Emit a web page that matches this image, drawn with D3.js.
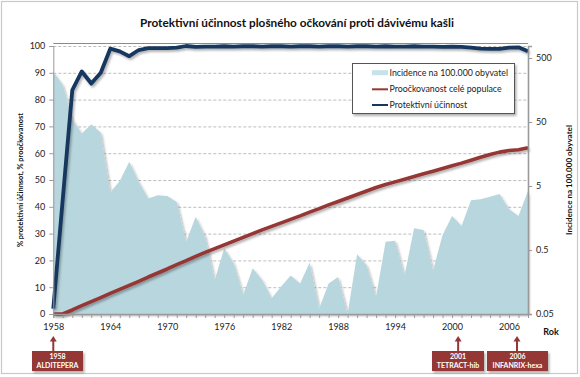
<!DOCTYPE html>
<html>
<head>
<meta charset="utf-8">
<script src="https://cdn.jsdelivr.net/npm/d3@7"></script>
<style>
  body { margin: 0; background: #fff; }
  svg text { font-family: Lato, "Open Sans", sans-serif; }
</style>
</head>
<body>
<svg id="chart" width="580" height="377"></svg>
<script>
// categories: one per year
var years = d3.range(1958, 2009);
var xTickYears = [1958, 1964, 1970, 1976, 1982, 1988, 1994, 2000, 2006];
var leftTicks = [0, 10, 20, 30, 40, 50, 60, 70, 80, 90, 100];
var rightTicks = [0.05, 0.5, 5, 50, 500];
var rightTickLabels = ["0.05", "0.5", "5", "50", "500"];

// incidence per 100 000 (right log axis)
var incidence = [305, 189, 55, 33, 46, 34, 4, 6, 12, 5.8,
  3.2, 3.6, 3.5, 2.8, 0.67, 1.65, 0.81, 0.17, 0.53, 0.31,
  0.1, 0.26, 0.17, 0.088, 0.134, 0.2, 0.15, 0.32, 0.061, 0.15,
  0.19, 0.05, 0.43, 0.29, 0.093, 0.67, 0.7, 0.2, 1.09, 1.03,
  0.24, 0.86, 1.7, 1.19, 3.0, 3.1, 3.4, 3.75, 2.16, 1.7,
  4.2];
// % coverage of whole population
var coverage = [0, 0, 1.5, 3.1, 4.6, 6.1, 7.7, 9.2, 10.7, 12.2,
  13.8, 15.3, 16.8, 18.4, 19.9, 21.5, 23.0, 24.4, 25.8, 27.2,
  28.6, 30.0, 31.4, 32.7, 34.0, 35.3, 36.6, 38.0, 39.3, 40.7,
  42.0, 43.3, 44.6, 45.9, 47.2, 48.3, 49.3, 50.3, 51.3, 52.3,
  53.3, 54.3, 55.3, 56.3, 57.4, 58.5, 59.5, 60.4, 61.0, 61.3,
  62.0];
// % protective efficacy
var efficacy = [2, 43, 83.5, 90.5, 86, 90, 99, 98, 96.2, 98.5,
  99.2, 99.2, 99.2, 99.4, 100, 99.7, 99.8, 99.8, 99.9, 99.8,
  99.9, 99.9, 99.8, 99.9, 99.9, 99.8, 99.9, 99.9, 99.8, 99.9,
  99.9, 99.8, 99.9, 99.9, 99.8, 99.9, 99.8, 99.8, 99.9, 99.8,
  99.8, 99.7, 99.8, 99.7, 99.4, 99.0, 98.9, 98.9, 99.4, 99.5,
  98];

var seriesNames = ["Incidence na 100.000 obyvatel", "Proočkovanost celé populace", "Protektivní účinnost"];
var annYears = [1958, 2001, 2006];
var annLabels = [["1958", "ALDITEPERA"], ["2001", "TETRACT-hib"], ["2006", "INFANRIX-hexa"]];

var colArea = "#b8d6de", colRed = "#953735", colBlue = "#17375e";

var svg = d3.select("#chart");
var plotL = 53.3, plotR = 528, plotT = 43, plotB = 314;

var x = d3.scaleLinear().domain([1958, 2008]).range([plotL, plotR]);
var yL = d3.scaleLinear().domain([0, 100]).range([plotB, 46]);
var yR = d3.scaleLog().domain([0.05, 770]).range([plotB, 46]);

var defs = svg.append("defs");
var f = defs.append("filter").attr("id", "shadow").attr("x", "-10%").attr("y", "-10%").attr("width", "130%").attr("height", "130%");
f.append("feDropShadow").attr("dx", 1.5).attr("dy", 2).attr("stdDeviation", 1.2)
  .attr("flood-color", "#000").attr("flood-opacity", 0.3);

// chart area border
svg.append("rect").attr("x", 1.5).attr("y", 1.5).attr("width", 576).attr("height", 372)
  .attr("fill", "#fff").attr("stroke", "#c9c9c9").attr("stroke-width", 1.2);

function fitText(sel, w) {
  var fs = parseFloat(sel.attr("font-size"));
  var len = sel.node().getComputedTextLength();
  if (len > 0) sel.attr("font-size", (fs * w / len).toFixed(2));
}

// title
var title = svg.append("text").attr("x", 297).attr("y", 27).attr("text-anchor", "middle")
  .attr("font-size", 13).attr("font-weight", "bold").attr("fill", "#111")
  .text("Protektivní účinnost plošného očkování proti dávivému kašli");
fitText(title, 314);

// gridlines
svg.append("g").selectAll("line").data(leftTicks.filter(function (d) { return d > 0; }))
  .enter().append("line")
  .attr("x1", plotL).attr("x2", plotR)
  .attr("y1", function (d) { return yL(d) + 0.5; }).attr("y2", function (d) { return yL(d) + 0.5; })
  .attr("stroke", "#bdbdbd").attr("stroke-dasharray", "3,2");

// plot frame top
svg.append("line").attr("x1", plotL).attr("x2", plotR).attr("y1", plotT + 0.5).attr("y2", plotT + 0.5)
  .attr("stroke", "#8a8a8a");

// incidence area
var area = d3.area()
  .x(function (d, i) { return x(years[i]); })
  .y0(yR(0.05))
  .y1(function (d) { return yR(d); });
svg.append("path").datum(incidence).attr("d", area)
  .attr("fill", colArea).attr("filter", "url(#shadow)");

var lineL = d3.line()
  .x(function (d, i) { return x(years[i]); })
  .y(function (d) { return yL(d); });

svg.append("path").datum(coverage).attr("d", lineL)
  .attr("fill", "none").attr("stroke", colRed).attr("stroke-width", 3.6)
  .attr("stroke-linejoin", "round").attr("filter", "url(#shadow)");

svg.append("path").datum(efficacy).attr("d", lineL)
  .attr("fill", "none").attr("stroke", colBlue).attr("stroke-width", 3.8)
  .attr("stroke-linejoin", "round").attr("filter", "url(#shadow)");

// axes
var axL = svg.append("g").attr("transform", "translate(" + plotL + ",0)")
  .call(d3.axisLeft(yL).tickValues(leftTicks).tickSize(4).tickPadding(4));
var axR = svg.append("g").attr("transform", "translate(" + plotR + ",0)")
  .call(d3.axisRight(yR).tickValues(rightTicks).tickSize(4).tickPadding(4)
    .tickFormat(function (d, i) { return rightTickLabels[i]; }));
var axBminor = svg.append("g").attr("transform", "translate(0," + plotB + ")")
  .call(d3.axisBottom(x).tickValues(years).tickSize(4).tickFormat(""));
var axB = svg.append("g").attr("transform", "translate(0," + plotB + ")")
  .call(d3.axisBottom(x).tickValues(xTickYears).tickSize(0).tickPadding(10).tickFormat(d3.format("d")));

[axL, axR, axBminor, axB].forEach(function (g) {
  g.select(".domain").attr("stroke", "#9a9a9a");
  g.selectAll(".tick line").attr("stroke", "#9a9a9a");
  g.selectAll(".tick text").attr("font-size", 9).attr("fill", "#222")
    .style("font-family", "Lato, 'Open Sans', sans-serif");
});
axR.select(".domain").attr("stroke-width", 1.6);
axB.select(".domain").attr("stroke-width", 1.4);

// axis titles
var tL = svg.append("text").attr("transform", "translate(23,180) rotate(-90)")
  .attr("text-anchor", "middle").attr("font-size", 9).attr("font-weight", "bold").attr("fill", "#111")
  .text("% protektivní účinnsot, % proočkovanost");
fitText(tL, 134);
var tR = svg.append("text").attr("transform", "translate(572,180) rotate(-90)")
  .attr("text-anchor", "middle").attr("font-size", 9).attr("font-weight", "bold").attr("fill", "#111")
  .text("Incidence na 100.000 obyvatel");
fitText(tR, 110);
svg.append("text").attr("x", 551).attr("y", 335).attr("text-anchor", "middle")
  .attr("font-size", 9).attr("font-weight", "bold").attr("fill", "#111").text("Rok");

// legend
var lg = svg.append("g");
lg.append("rect").attr("x", 352.5).attr("y", 63.5).attr("width", 162).attr("height", 50)
  .attr("fill", "#fff").attr("stroke", "#555").attr("filter", "url(#shadow)");
var rowsY = [72.7, 89.3, 105];
seriesNames.forEach(function (name, i) {
  if (i === 0) {
    lg.append("rect").attr("x", 372).attr("y", rowsY[i] - 2.5).attr("width", 16).attr("height", 5)
      .attr("fill", "#c6e3ec");
  } else {
    lg.append("line").attr("x1", 372).attr("x2", 388).attr("y1", rowsY[i]).attr("y2", rowsY[i])
      .attr("stroke", i === 1 ? colRed : colBlue).attr("stroke-width", 2);
  }
  lg.append("text").attr("x", 389.5).attr("y", rowsY[i]).attr("dy", "0.35em")
    .attr("font-size", 8.8).attr("fill", "#222").text(name);
});

// vaccine callouts
var annArrowDx = [0, -3.4, 8];
var annBox = [[32, 51], [432, 52], [487, 61]];
annYears.forEach(function (yr, i) {
  var g = svg.append("g");
  var ax = x(yr) + annArrowDx[i];
  var top = 336, boxY = 351;
  g.append("line").attr("x1", ax).attr("x2", ax).attr("y1", top + 4).attr("y2", boxY)
    .attr("stroke", colRed).attr("stroke-width", 2);
  g.append("path").attr("d", "M" + ax + "," + top + "L" + (ax - 3.5) + "," + (top + 5.5) + "L" + (ax + 3.5) + "," + (top + 5.5) + "Z")
    .attr("fill", colRed);
  g.append("rect").attr("x", annBox[i][0]).attr("y", boxY).attr("width", annBox[i][1]).attr("height", 20)
    .attr("fill", colRed).attr("filter", "url(#shadow)");
  var cx = annBox[i][0] + annBox[i][1] / 2;
  annLabels[i].forEach(function (t, j) {
    g.append("text").attr("x", cx).attr("y", boxY + 8 + j * 8.5).attr("text-anchor", "middle")
      .attr("font-size", 7).attr("font-weight", "bold").attr("fill", "#fff").text(t);
  });
});
</script>
</body>
</html>
